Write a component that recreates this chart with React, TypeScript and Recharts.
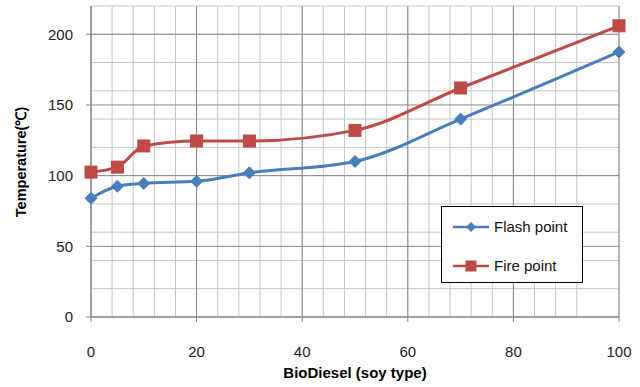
import React from 'react';
import { LineChart, Line, XAxis, YAxis, CartesianGrid, Legend, Label } from 'recharts';

const biodieselPct = [0, 5, 10, 20, 30, 50, 70, 100];
const flashPoint = [84, 92.5, 94.5, 96, 102, 110, 140, 187.5];
const firePoint = [102.5, 106, 121, 124.5, 124.5, 132, 162, 206];

const xTicks = [0, 20, 40, 60, 80, 100];
const yTicks = [0, 50, 100, 150, 200];
const xMinorGrid = [0, 4, 8, 12, 16, 20, 24, 28, 32, 36, 40, 44, 48, 52, 56, 60, 64, 68, 72, 76, 80, 84, 88, 92, 96, 100];
const yMinorGrid = [0, 10, 20, 30, 40, 50, 60, 70, 80, 90, 100, 110, 120, 130, 140, 150, 160, 170, 180, 190, 200, 210, 220];

const data = biodieselPct.map((x, i) => ({ x, flash: flashPoint[i], fire: firePoint[i] }));

const BLUE = '#4a7ebb';
const RED = '#be4b48';
const FONT = '"Liberation Sans", Arial, sans-serif';

const Diamond = (props: any) => {
  const { cx, cy, r = 6 } = props;
  if (cx == null || cy == null) return null;
  return <path d={`M${cx},${cy - r} L${cx + r},${cy} L${cx},${cy + r} L${cx - r},${cy} Z`} fill={BLUE} stroke={BLUE} strokeWidth={1} />;
};

const Square = (props: any) => {
  const { cx, cy, s = 6 } = props;
  if (cx == null || cy == null) return null;
  return <rect x={cx - s} y={cy - s} width={2 * s} height={2 * s} fill={RED} stroke={RED} strokeWidth={1} />;
};

const LegendBox = (props: any) => {
  const items = [
    { name: 'Flash point', color: BLUE, kind: 'diamond' },
    { name: 'Fire point', color: RED, kind: 'square' },
  ];
  return (
    <div style={{ width: 142, height: 77, border: '1px solid #000', background: '#fff', boxSizing: 'border-box', position: 'relative' }}>
      {items.map((it, i) => (
        <div key={it.name} style={{ position: 'absolute', left: 10, top: i === 0 ? 10 : 49, display: 'flex', alignItems: 'center', height: 20 }}>
          <svg width={38} height={16} style={{ display: 'block' }}>
            <line x1={1} y1={8} x2={37} y2={8} stroke={it.color} strokeWidth={2.5} />
            {it.kind === 'diamond' ? (
              <path d="M19,3 L24,8 L19,13 L14,8 Z" fill={it.color} />
            ) : (
              <rect x={13.5} y={2.5} width={11} height={11} fill={it.color} />
            )}
          </svg>
          <span style={{ fontFamily: FONT, fontSize: 15, color: '#111', marginLeft: 4, lineHeight: '20px' }}>{it.name}</span>
        </div>
      ))}
    </div>
  );
};

const YTitle = (props: any) => {
  const cx = 21;
  const cy = 162;
  return (
    <text x={cx} y={cy} transform={`rotate(-90, ${cx}, ${cy})`} textAnchor="middle" dominantBaseline="central"
      style={{ fontFamily: FONT, fontSize: 14.5, fontWeight: 'bold', fill: '#000' }}>
      Temperature(℃)
    </text>
  );
};

export default function App() {
  return (
    <div style={{ position: 'absolute', left: 0, top: 0, width: 640, height: 387, background: '#fff' }}>
      <LineChart width={640} height={387} data={data} margin={{ top: 6, right: 21, left: 0, bottom: 0 }}>
        <CartesianGrid stroke="#c6c6c6" strokeWidth={1} verticalValues={xMinorGrid} horizontalValues={yMinorGrid} />
        <CartesianGrid stroke="#8a8a8a" strokeWidth={1} verticalValues={xTicks} horizontalValues={yTicks} />
        <XAxis
          dataKey="x"
          type="number"
          domain={[0, 100]}
          ticks={xTicks}
          height={70}
          tickSize={5}
          tickMargin={24}
          axisLine={{ stroke: '#868686' }}
          tickLine={{ stroke: '#868686' }}
          tick={{ fill: '#222', fontFamily: FONT, fontSize: 15 }}
        >
          <Label value="BioDiesel (soy type)" position="insideBottom" offset={9}
            style={{ fontFamily: FONT, fontSize: 15, fontWeight: 'bold', fill: '#000' }} />
        </XAxis>
        <YAxis
          type="number"
          domain={[0, 220]}
          ticks={yTicks}
          width={91}
          tickSize={5}
          tickMargin={13}
          axisLine={{ stroke: '#868686' }}
          tickLine={{ stroke: '#868686' }}
          tick={{ fill: '#222', fontFamily: FONT, fontSize: 15 }}
          label={<YTitle />}
        />
        <Legend
          layout="vertical"
          align="center"
          verticalAlign="middle"
          content={<LegendBox />}
          wrapperStyle={{ position: 'absolute', left: 441, top: 206, width: 142, height: 77 }}
        />
        <Line
          type="monotone"
          dataKey="flash"
          name="Flash point"
          stroke={BLUE}
          strokeWidth={3}
          dot={<Diamond r={6} />}
          activeDot={false}
          isAnimationActive={false}
        />
        <Line
          type="monotone"
          dataKey="fire"
          name="Fire point"
          stroke={RED}
          strokeWidth={3}
          dot={<Square s={6} />}
          activeDot={false}
          isAnimationActive={false}
        />
      </LineChart>
    </div>
  );
}
